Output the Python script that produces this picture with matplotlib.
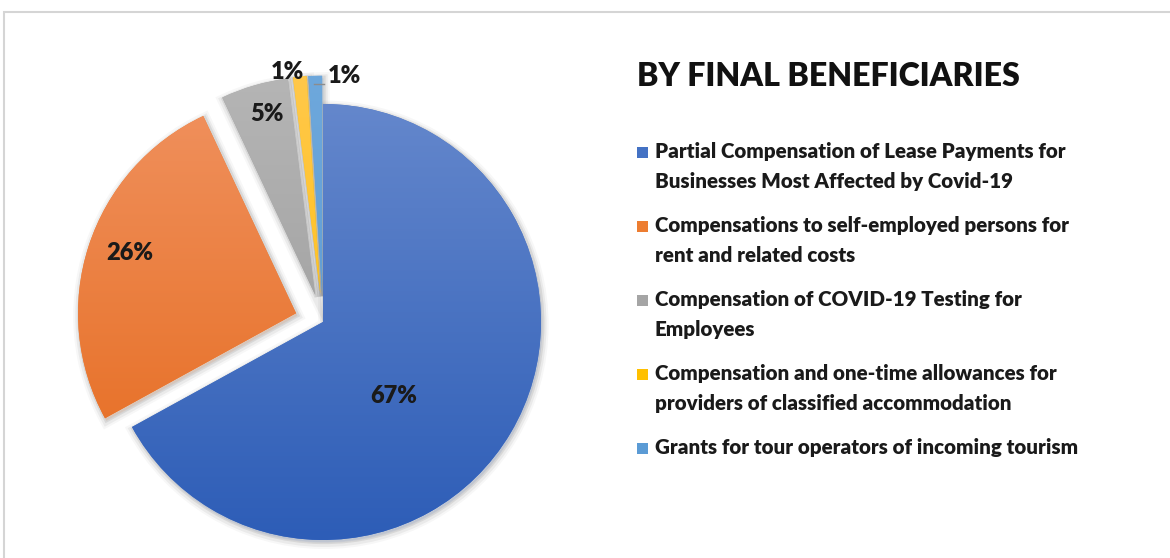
import numpy as np
import matplotlib
matplotlib.use("Agg")
import matplotlib.pyplot as plt
import matplotlib.patheffects as pe
from matplotlib.colors import LinearSegmentedColormap
from matplotlib.patches import Rectangle

# data
labels = [
    "Partial Compensation of Lease Payments for\nBusinesses Most Affected by Covid-19",
    "Compensations to self-employed persons for\nrent and related costs",
    "Compensation of COVID-19 Testing for\nEmployees",
    "Compensation and one-time allowances for\nproviders of classified accommodation",
    "Grants for tour operators of incoming tourism",
]
shares = [67, 26, 5, 1, 1]
pct_labels = ["67%", "26%", "5%", "1%", "1%"]

colors = ["#4472c4", "#ed7d31", "#a5a5a5", "#ffc000", "#5b9bd5"]
grad_top = ["#6487cc", "#f0915e", "#b5b5b5", "#ffc84a", "#6ea8dc"]
grad_bot = ["#2d5db7", "#e5691b", "#979797", "#ffbd00", "#5496d2"]

FONT = "Lato"
plt.rcParams["font.family"] = [FONT, "DejaVu Sans"]

W, H = 1170, 558
fig = plt.figure(figsize=(W / 100, H / 100), dpi=100)

# pie axes sized so that radius 1 = 218 px, centre at (323, 322) px
R = 218.0
cx_px, cy_px = 323, 322
half = 1.3
ax = fig.add_axes([(cx_px - half * R) / W, (H - cy_px - half * R) / H,
                   2 * half * R / W, 2 * half * R / H])

shadow = [pe.Stroke(linewidth=9, foreground="black", alpha=0.03, offset=(1, -2)),
          pe.Stroke(linewidth=6, foreground="black", alpha=0.05, offset=(1, -2)),
          pe.Stroke(linewidth=3, foreground="black", alpha=0.08, offset=(1, -1.5)),
          pe.Normal()]

wedges, _ = ax.pie(shares, colors=colors, startangle=90, counterclock=False,
                   explode=[0, 0.13, 0.13, 0.13, 0.13],
                   wedgeprops=dict(linewidth=0))
ax.set_xlim(-half, half)
ax.set_ylim(-half, half)
ax.set_aspect("equal")
ax.axis("off")

for w, c0, c1 in zip(wedges, grad_top, grad_bot):
    w.set_path_effects(shadow)
    cmap = LinearSegmentedColormap.from_list("g", [c1, c0])
    x0, y0 = w.center[0] - 1, w.center[1] - 1
    grad = np.linspace(0, 1, 256).reshape(-1, 1)
    im = ax.imshow(grad, cmap=cmap, origin="lower", aspect="auto",
                   extent=[x0, x0 + 2, y0, y0 + 2], zorder=w.get_zorder() + 0.5)
    im.set_clip_path(w)

# percentage labels: (angle deg, distance in radii) from each wedge centre
label_pos = [(-46, 0.47), (160, 0.81), (105, 0.86), (98.5, 1.03), (88.5, 1.0)]
for i, (w, txt) in enumerate(zip(wedges, pct_labels)):
    a, d = label_pos[i]
    x = w.center[0] + d * np.cos(np.radians(a))
    y = w.center[1] + d * np.sin(np.radians(a))
    ha = "left" if i == 4 else "center"
    ax.text(x, y, txt, ha=ha, va="center", fontsize=17, fontweight="heavy",
            color="#1a1a1a", zorder=10)

# leader line for the last small slice
wc = wedges[4].center
ax.plot([wc[0] - 0.035, wc[0] + 0.01], [wc[1] + 0.96, wc[1] + 0.96],
        color="#8c8c8c", linewidth=1, zorder=9)

# title
fig.text(637 / W, 1 - 76 / H, "BY FINAL BENEFICIARIES", ha="left", va="center",
         fontsize=23.1, fontweight="heavy", color="#111111")

# legend drawn by hand so markers line up with the first text line
y_first = [152, 226, 300, 374, 448]
for lab, col, yp in zip(labels, colors, y_first):
    fig.patches.append(Rectangle(((637) / W, 1 - (yp + 5.5) / H), 11 / W, 11 / H,
                                 transform=fig.transFigure, facecolor=col,
                                 edgecolor="none"))
    fig.text(655 / W, 1 - (yp - 10) / H, lab, ha="left", va="top",
             fontsize=14.8, fontweight="heavy", color="#1a1a1a", linespacing=1.7)

# chart frame
fig.patches.append(Rectangle((4 / W, -0.1), 1.2, 1.1 - 12 / H,
                             transform=fig.transFigure, facecolor="none",
                             edgecolor="#d5d5d5", linewidth=1.5))

fig.savefig("out.png", dpi=100)
